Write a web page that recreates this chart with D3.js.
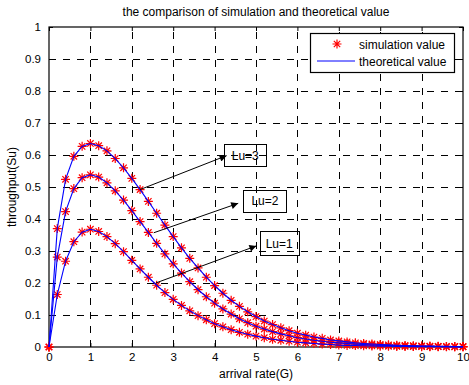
<!DOCTYPE html>
<html><head><meta charset="utf-8">
<script src="https://cdn.jsdelivr.net/npm/d3@7"></script>
<style>
html,body{margin:0;padding:0;background:#fff;}
svg{display:block;font-family:"Liberation Sans",Arial,Helvetica,sans-serif;}
</style></head>
<body>
<svg id="chart" width="469" height="385"></svg>
<script>
// arrival rate G
const G = [0,0.2,0.4,0.6,0.8,1,1.2,1.4,1.6,1.8,2,2.2,2.4,2.6,2.8,3,3.2,3.4,3.6,3.8,4,4.2,4.4,4.6,4.8,5,5.2,5.4,5.6,5.8,6,6.2,6.4,6.6,6.8,7,7.2,7.4,7.6,7.8,8,8.2,8.4,8.6,8.8,9,9.2,9.4,9.6,9.8,10];
const lu1 = [0,0.164,0.268,0.329,0.359,0.368,0.361,0.345,0.323,0.298,0.271,0.244,0.218,0.193,0.170,0.149,0.130,0.113,0.098,0.085,0.073,0.063,0.054,0.046,0.040,0.034,0.029,0.024,0.021,0.018,0.015,0.013,0.011,0.009,0.008,0.006,0.005,0.0045,0.0038,0.0032,0.0027,0.0023,0.0019,0.0016,0.0013,0.0011,0.0009,0.0008,0.0007,0.0005,0.0005];
const lu2 = [0,0.281,0.423,0.495,0.529,0.538,0.531,0.513,0.488,0.459,0.426,0.392,0.358,0.324,0.291,0.260,0.231,0.204,0.179,0.157,0.137,0.119,0.103,0.088,0.076,0.065,0.056,0.048,0.041,0.035,0.029,0.025,0.021,0.018,0.015,0.013,0.011,0.009,0.0076,0.0064,0.0053,0.0045,0.0038,0.0032,0.0027,0.0022,0.0019,0.0016,0.0013,0.0011,0.0009];
const lu3 = [0,0.370,0.524,0.596,0.627,0.636,0.629,0.613,0.589,0.560,0.527,0.492,0.455,0.418,0.381,0.345,0.310,0.277,0.247,0.218,0.192,0.168,0.146,0.127,0.110,0.095,0.081,0.070,0.060,0.051,0.043,0.037,0.031,0.027,0.022,0.019,0.016,0.013,0.011,0.0095,0.008,0.0067,0.0056,0.0047,0.004,0.0033,0.0028,0.0023,0.0019,0.0016,0.0013];
const xTicks = [0,1,2,3,4,5,6,7,8,9,10];
const yTicks = [0,0.1,0.2,0.3,0.4,0.5,0.6,0.7,0.8,0.9,1];
const seriesNames = ["simulation value","theoretical value"];
const labels = ["Lu=3","Lu=2","Lu=1"];
const title = "the comparison of simulation and theoretical value";
const xTitle = "arrival rate(G)";
const yTitle = "throughput(Su)";

const svg = d3.select("#chart");
const L = 49, R = 463, T = 27, B = 347;
const FS = 12;
const x = d3.scaleLinear().domain([0,10]).range([L,R]);
const y = d3.scaleLinear().domain([0,1]).range([B,T]);

// grid
const grid = svg.append("g").attr("stroke","#000").attr("stroke-width",1).attr("stroke-dasharray","7,7");
xTicks.slice(1,-1).forEach(t=>grid.append("line").attr("x1",Math.round(x(t))+0.5).attr("x2",Math.round(x(t))+0.5).attr("y1",B).attr("y2",T));
yTicks.slice(1,-1).forEach(t=>grid.append("line").attr("y1",Math.round(y(t))+0.5).attr("y2",Math.round(y(t))+0.5).attr("x1",L).attr("x2",R));

// axes
const fmt = d=> d===0?"0":(Number.isInteger(d)?String(d):d.toFixed(1));
const xa = svg.append("g").attr("transform",`translate(0,${B})`).call(d3.axisBottom(x).tickValues(xTicks).tickFormat(fmt).tickSizeInner(-4).tickSizeOuter(0).tickPadding(8));
const ya = svg.append("g").attr("transform",`translate(${L},0)`).call(d3.axisLeft(y).tickValues(yTicks).tickFormat(fmt).tickSizeInner(-4).tickSizeOuter(0).tickPadding(8));
const xt = svg.append("g").attr("transform",`translate(0,${T})`).call(d3.axisTop(x).tickValues(xTicks).tickFormat("").tickSizeInner(-4).tickSizeOuter(0));
const yr = svg.append("g").attr("transform",`translate(${R},0)`).call(d3.axisRight(y).tickValues(yTicks).tickFormat("").tickSizeInner(-4).tickSizeOuter(0));
[xa,ya,xt,yr].forEach(a=>{a.select(".domain").remove();a.selectAll("line").attr("stroke","#000");a.selectAll("text").attr("font-size",11.5).attr("fill","#000").attr("font-family","Liberation Sans, Arial, sans-serif");});
xa.selectAll("text").attr("dy","0.5em");
svg.append("rect").attr("x",L).attr("y",T).attr("width",R-L).attr("height",B-T).attr("fill","none").attr("stroke","#000").attr("stroke-width",1.2);

const allS = [lu1,lu2,lu3];

// markers (simulation)
const star = (cx,cy)=>{const a=4.5,b=3.2;return `M${cx-a},${cy}L${cx+a},${cy}M${cx},${cy-a}L${cx},${cy+a}M${cx-b},${cy-b}L${cx+b},${cy+b}M${cx-b},${cy+b}L${cx+b},${cy-b}`;};
const mk = svg.append("g").attr("stroke","#ff0000").attr("stroke-width",1.2).attr("fill","none");
allS.forEach(s=>s.forEach((v,i)=>mk.append("path").attr("d",star(x(G[i]),y(v)))));

// lines (theoretical), drawn over markers
const line = d3.line().x((d,i)=>x(G[i])).y(d=>y(d));
allS.forEach(s=>svg.append("path").attr("d",line(s)).attr("fill","none").attr("stroke","#0000ff").attr("stroke-width",1.1));

// annotations: arrow from point to box
const defs = svg.append("defs");
defs.append("marker").attr("id","ah").attr("viewBox","0 0 10 10").attr("refX",10).attr("refY",5)
  .attr("markerWidth",11).attr("markerHeight",7).attr("markerUnits","userSpaceOnUse").attr("orient","auto")
  .append("path").attr("d","M0,0L10,5L0,10z").attr("fill","#000");
const ann = [
  {t:labels[0], from:[2.2,0.492], to:[4.29,0.598], box:[4.23,0.633,1.02,0.069]},
  {t:labels[1], from:[2.53,0.357], to:[4.57,0.449], box:[4.69,0.492,1.05,0.068]},
  {t:labels[2], from:[2.58,0.200], to:[5.01,0.316], box:[5.09,0.361,0.94,0.076]}
];
ann.forEach(a=>{
  svg.append("line").attr("x1",x(a.from[0])).attr("y1",y(a.from[1])).attr("x2",x(a.to[0])).attr("y2",y(a.to[1]))
    .attr("stroke","#000").attr("stroke-width",1).attr("marker-end","url(#ah)");
  const bx=x(a.box[0]), by=y(a.box[1]), bw=x(a.box[0]+a.box[2])-bx, bh=y(a.box[1]-a.box[3])-by;
  svg.append("rect").attr("x",Math.round(bx)+0.5).attr("y",Math.round(by)+0.5).attr("width",Math.round(bw)).attr("height",Math.round(bh))
    .attr("fill","none").attr("stroke","#000").attr("stroke-width",1);
  svg.append("text").attr("x",bx+bw/2).attr("y",by+bh/2+4.5).attr("text-anchor","middle").attr("font-size",FS).text(a.t);
});

// legend
const lg = svg.append("g");
lg.append("rect").attr("x",310.5).attr("y",33.5).attr("width",144).attr("height",39).attr("fill","#fff").attr("stroke","#000").attr("stroke-width",1.2);
lg.append("path").attr("d",star(337,44)).attr("stroke","#ff0000").attr("stroke-width",1.2).attr("fill","none");
lg.append("line").attr("x1",317).attr("x2",355).attr("y1",61).attr("y2",61).attr("stroke","#0000ff");
lg.append("text").attr("x",359).attr("y",48.5).attr("font-size",FS).text(seriesNames[0]);
lg.append("text").attr("x",359).attr("y",65.5).attr("font-size",FS).text(seriesNames[1]);

// titles
svg.append("text").attr("x",(L+R)/2).attr("y",15.5).attr("text-anchor","middle").attr("font-size",FS).text(title);
svg.append("text").attr("x",(L+R)/2).attr("y",378).attr("text-anchor","middle").attr("font-size",FS).text(xTitle);
svg.append("text").attr("transform",`translate(16,${(T+B)/2}) rotate(-90)`).attr("text-anchor","middle").attr("font-size",FS).text(yTitle);
</script>
</body></html>
